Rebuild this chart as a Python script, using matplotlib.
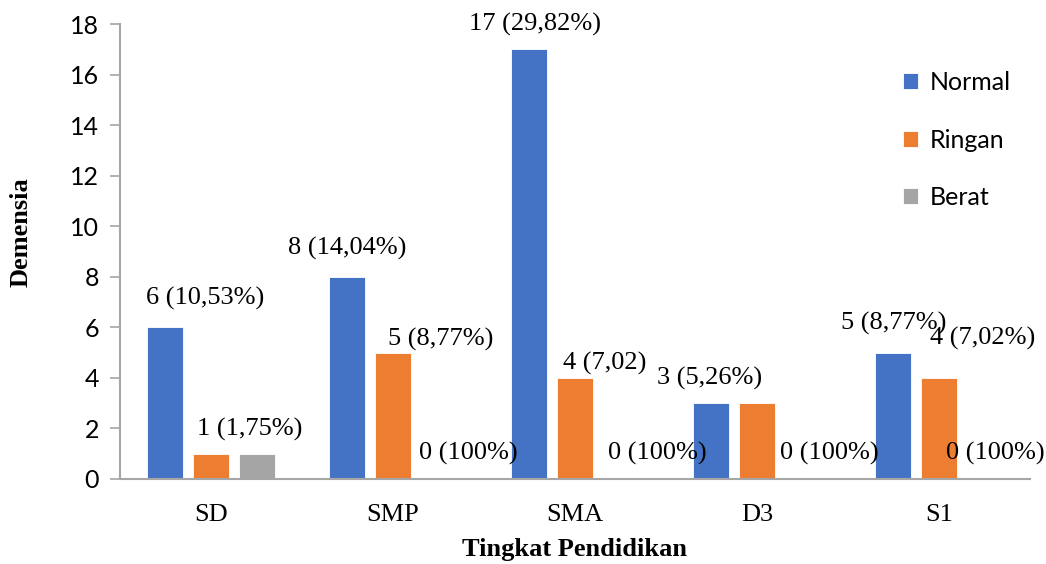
import matplotlib
matplotlib.use("Agg")
import matplotlib.pyplot as plt
import numpy as np

categories = ["SD", "SMP", "SMA", "D3", "S1"]
series_names = ["Normal", "Ringan", "Berat"]
normal = [6, 8, 17, 3, 5]
ringan = [1, 5, 4, 3, 4]
berat = [1, 0, 0, 0, 0]
yticks = [0, 2, 4, 6, 8, 10, 12, 14, 16, 18]

# data labels per series (None = no label)
labels_normal = ["6 (10,53%)", "8 (14,04%)", "17 (29,82%)", "3 (5,26%)", "5 (8,77%)"]
labels_ringan = ["1 (1,75%)", "5 (8,77%)", "4 (7,02)", None, "4 (7,02%)"]
labels_berat = [None, "0 (100%)", "0 (100%)", "0 (100%)", "0 (100%)"]

# label offsets in pixels (dx, dy) relative to bar top center
off_normal = [(40, 29), (0, 28), (6, 25), (-1, 25), (1, 29)]
off_ringan = [(39, 24), (48, 13), (30, 14), (0, 0), (44, 39)]
off_berat = [(0, 0), (29, 26), (36, 26), (26, 26), (10, 26)]

colors = ["#4472C4", "#ED7D31", "#A5A5A5"]

fig = plt.figure(figsize=(10.46, 5.64), dpi=100)
ax = fig.add_axes([120/1046, 1-479/564, (1030-120)/1046, (479-24)/564])

x = np.arange(len(categories))
bw = 36/182
step = 46/182
series = [normal, ringan, berat]
all_labels = [labels_normal, labels_ringan, labels_berat]
all_offs = [off_normal, off_ringan, off_berat]
serif = "Liberation Serif"
sans = "Lato"
fs_serif = 19
fs_sans = 18

for i, (vals, name, col) in enumerate(zip(series, series_names, colors)):
    xs = x + (i - 1) * step
    ax.bar(xs, vals, width=bw, color=col, label=name, edgecolor="white", linewidth=0.6)
    for xx, v, lab, (dx, dy) in zip(xs, vals, all_labels[i], all_offs[i]):
        if lab is None:
            continue
        ax.annotate(lab, xy=(xx, v), xytext=(dx, dy), textcoords="offset pixels",
                    ha="center", va="center", fontsize=fs_serif, family=serif, color="#000000")

ax.set_xlim(-0.5, len(categories) - 0.5)
ax.set_ylim(0, 18)
ax.set_yticks(yticks)
ax.set_yticklabels([str(t) for t in yticks], fontsize=fs_sans, family=sans)
ax.set_xticks(x)
ax.set_xticklabels(categories, fontsize=fs_serif, family=serif)
ax.tick_params(axis="x", length=0, pad=18)
ax.tick_params(axis="y", length=7, color="#A6A6A6", width=1.2, pad=8)

for s in ["top", "right"]:
    ax.spines[s].set_visible(False)
for s in ["left", "bottom"]:
    ax.spines[s].set_color("#A6A6A6")
    ax.spines[s].set_linewidth(1.5)

ax.set_ylabel("Demensia", fontsize=fs_serif, family=serif, fontweight="bold")
ax.yaxis.set_label_coords(-87/910, 0.543)
ax.set_xlabel("Tingkat Pendidikan", fontsize=fs_serif, family=serif, fontweight="bold")
ax.xaxis.set_label_coords(0.5, -59/455)

leg = fig.legend(loc="upper left", bbox_to_anchor=(903/1046, 1-71/564), frameon=False,
                 prop={"family": sans, "size": fs_sans}, handlelength=0.6, handleheight=0.6,
                 handletextpad=0.45, labelspacing=1.38, borderpad=0, borderaxespad=0)

fig.savefig("out.png", dpi=100)
